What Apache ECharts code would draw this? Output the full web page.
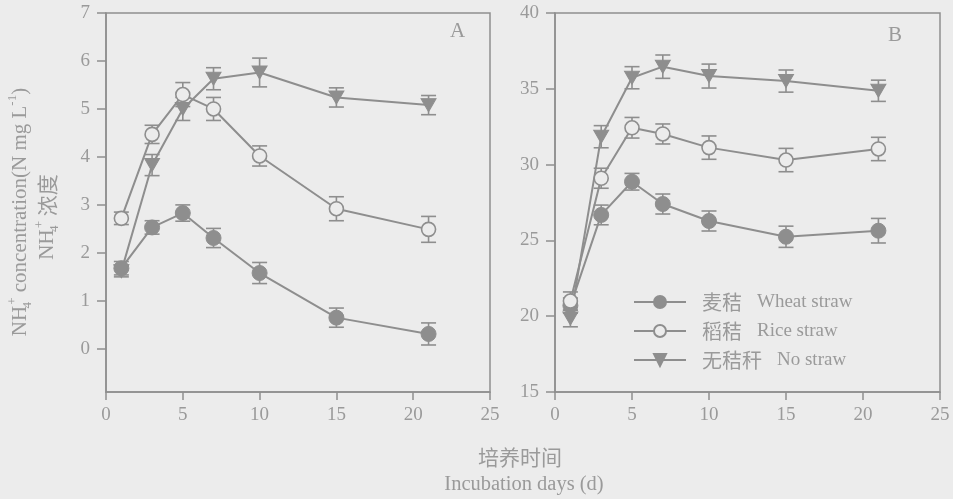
<!DOCTYPE html>
<html><head><meta charset="utf-8">
<script src="https://cdn.jsdelivr.net/npm/echarts@6/dist/echarts.min.js"></script>
<style>html,body{margin:0;padding:0;background:#ececec;}#c{width:953px;height:499px;}</style>
</head><body><div id="c"></div>
<script>
// ---- data ----
const days = [1, 3, 5, 7, 10, 15, 21];
const xTicks = [0, 5, 10, 15, 20, 25];
const yTicksA = [0, 1, 2, 3, 4, 5, 6, 7];
const yTicksB = [15, 20, 25, 30, 35, 40];
const seriesCn = ['麦秸', '稻秸', '无秸秆'];
const seriesEn = ['Wheat straw', 'Rice straw', 'No straw'];
// Panel A
const A_wheat = [1.68, 2.53, 2.83, 2.31, 1.58, 0.65, 0.31];
const A_wheat_err = [0.14, 0.14, 0.17, 0.20, 0.22, 0.20, 0.23];
const A_rice = [2.72, 4.47, 5.30, 5.00, 4.02, 2.92, 2.49];
const A_rice_err = [0.13, 0.19, 0.25, 0.24, 0.21, 0.25, 0.27];
const A_none = [1.62, 3.83, 5.00, 5.63, 5.76, 5.24, 5.08];
const A_none_err = [0.12, 0.22, 0.24, 0.23, 0.30, 0.20, 0.20];
// Panel B
const B_wheat = [20.7, 26.68, 28.87, 27.40, 26.28, 25.24, 25.64];
const B_wheat_err = [0.5, 0.65, 0.55, 0.66, 0.66, 0.70, 0.81];
const B_rice = [21.0, 29.10, 32.43, 32.02, 31.12, 30.30, 31.03];
const B_rice_err = [0.6, 0.66, 0.68, 0.66, 0.77, 0.77, 0.77];
const B_none = [19.85, 31.84, 35.73, 36.46, 35.84, 35.51, 34.87];
const B_none_err = [0.55, 0.73, 0.73, 0.77, 0.79, 0.73, 0.70];

// ---- styles ----
const BG = '#ececec';
const LINE = '#8e8e8e';
const TXT = '#9a9a9a';
const SERIF = 'Liberation Serif';
const CJK = 'Noto Sans CJK SC';
const triDown = 'path://M0,0L10,0L5,9Z';

const chart = echarts.init(document.getElementById('c'), null, {renderer: 'canvas'});

function pairs(ys) { return days.map((d, i) => [d, ys[i]]); }
function errData(ys, es) { return days.map((d, i) => [d, ys[i] - es[i], ys[i] + es[i]]); }

function errSeries(idx, ys, es) {
  return {
    type: 'custom', xAxisIndex: idx, yAxisIndex: idx, z: 1, silent: true,
    data: errData(ys, es),
    renderItem: function (params, api) {
      const x = api.value(0);
      const lo = api.coord([x, api.value(1)]);
      const hi = api.coord([x, api.value(2)]);
      const w = 7.5;
      const st = {stroke: LINE, lineWidth: 1.6};
      return {type: 'group', children: [
        {type: 'line', shape: {x1: lo[0], y1: lo[1], x2: hi[0], y2: hi[1]}, style: st},
        {type: 'line', shape: {x1: lo[0] - w, y1: lo[1], x2: lo[0] + w, y2: lo[1]}, style: st},
        {type: 'line', shape: {x1: hi[0] - w, y1: hi[1], x2: hi[0] + w, y2: hi[1]}, style: st}
      ]};
    }
  };
}

const markerStyles = [
  {symbol: 'circle', symbolSize: 15, itemStyle: {color: LINE, borderColor: LINE, borderWidth: 1}},
  {symbol: 'circle', symbolSize: 14, itemStyle: {color: BG, borderColor: LINE, borderWidth: 1.6}},
  {symbol: triDown, symbolSize: [15, 13], itemStyle: {color: LINE, borderColor: LINE, borderWidth: 1}}
];

function lineSeries(idx, k, ys) {
  return Object.assign({
    type: 'line', name: seriesCn[k], xAxisIndex: idx, yAxisIndex: idx, z: 3,
    data: pairs(ys), showAllSymbol: true,
    lineStyle: {color: LINE, width: 2},
    emphasis: {disabled: true}, animation: false
  }, JSON.parse(JSON.stringify(markerStyles[k])));
}

const axisLabelStyle = {color: TXT, fontFamily: SERIF, fontSize: 19};

function xAxis(idx) {
  return {
    type: 'value', gridIndex: idx, min: 0, max: 25, interval: 5,
    axisLine: {show: true, onZero: false, lineStyle: {color: LINE, width: 1.5}},
    axisTick: {show: true, inside: false, length: 8, lineStyle: {color: LINE, width: 1.5}},
    axisLabel: Object.assign({margin: 14}, axisLabelStyle),
    splitLine: {show: false}
  };
}

const richY = {
  m: {fontFamily: SERIF, fontSize: 21, fill: TXT, lineHeight: 28, verticalAlign: 'middle'},
  sub: {fontFamily: SERIF, fontSize: 13, fill: TXT, lineHeight: 28, verticalAlign: 'bottom', width: 1},
  sup: {fontFamily: SERIF, fontSize: 13, fill: TXT, lineHeight: 28, verticalAlign: 'top'},
  c: {fontFamily: CJK, fontSize: 21, fill: TXT, lineHeight: 28, verticalAlign: 'middle'}
};

const option = {
  backgroundColor: BG,
  animation: false,
  grid: [
    {left: 106, right: 463, top: 13, bottom: 107, show: true, borderColor: LINE, borderWidth: 1.5, backgroundColor: 'transparent'},
    {left: 555, right: 13, top: 13, bottom: 107, show: true, borderColor: LINE, borderWidth: 1.5, backgroundColor: 'transparent'}
  ],
  xAxis: [xAxis(0), xAxis(1)],
  yAxis: [
    {
      type: 'value', gridIndex: 0, min: -0.9, max: 7,
      axisLine: {show: true, onZero: false, lineStyle: {color: LINE, width: 1.5}},
      axisTick: {show: true, inside: false, length: 9, customValues: yTicksA, lineStyle: {color: LINE, width: 1.5}},
      axisLabel: Object.assign({margin: 16, customValues: yTicksA}, axisLabelStyle),
      splitLine: {show: false}
    },
    {
      type: 'value', gridIndex: 1, min: 15, max: 40, interval: 5,
      axisLine: {show: true, onZero: false, lineStyle: {color: LINE, width: 1.5}},
      axisTick: {show: true, inside: false, length: 9, lineStyle: {color: LINE, width: 1.5}},
      axisLabel: Object.assign({margin: 16}, axisLabelStyle),
      splitLine: {show: false}
    }
  ],
  legend: {
    orient: 'vertical', left: 628, top: 287,
    itemWidth: 52, itemHeight: 15, itemGap: 9,
    data: seriesCn,
    selectedMode: false,
    formatter: function (name) {
      const k = seriesCn.indexOf(name);
      return '{cn|' + name + '}{en|' + seriesEn[k] + '}';
    },
    textStyle: {
      color: TXT,
      rich: {
        cn: {fontFamily: CJK, fontSize: 20, color: TXT, padding: [0, 15, 0, 11]},
        en: {fontFamily: SERIF, fontSize: 19, color: TXT}
      }
    }
  },
  series: [
    errSeries(0, A_wheat, A_wheat_err),
    errSeries(0, A_rice, A_rice_err),
    errSeries(0, A_none, A_none_err),
    lineSeries(0, 0, A_wheat),
    lineSeries(0, 1, A_rice),
    lineSeries(0, 2, A_none),
    errSeries(1, B_wheat, B_wheat_err),
    errSeries(1, B_rice, B_rice_err),
    errSeries(1, B_none, B_none_err),
    lineSeries(1, 0, B_wheat),
    lineSeries(1, 1, B_rice),
    lineSeries(1, 2, B_none)
  ],
  graphic: [
    {type: 'text', left: 450, top: 21, style: {text: 'A', fill: TXT, font: '21px "Liberation Serif"'}},
    {type: 'text', left: 888, top: 25, style: {text: 'B', fill: TXT, font: '21px "Liberation Serif"'}},
    {type: 'text', x: 520, y: 457, style: {text: '培养时间', fill: TXT, font: '21px "Noto Sans CJK SC"', align: 'center', verticalAlign: 'middle'}},
    {type: 'text', x: 524, y: 485, style: {text: 'Incubation days (d)', fill: TXT, font: '20.5px "Liberation Serif"', align: 'center', verticalAlign: 'middle'}},
    {type: 'text', x: 20, y: 212, rotation: Math.PI / 2,
      style: {
        text: '{m|NH}{sub|4}{sup|+}{m| concentration(N mg L}{sup|-1}{m|)}',
        fill: TXT, align: 'center', verticalAlign: 'middle', rich: richY
      }},
    {type: 'text', x: 47, y: 217, rotation: Math.PI / 2,
      style: {
        text: '{m|NH}{sub|4}{sup|+}{c| 浓度}',
        fill: TXT, align: 'center', verticalAlign: 'middle', rich: richY
      }}
  ]
};
chart.setOption(option);
</script>
</body></html>
